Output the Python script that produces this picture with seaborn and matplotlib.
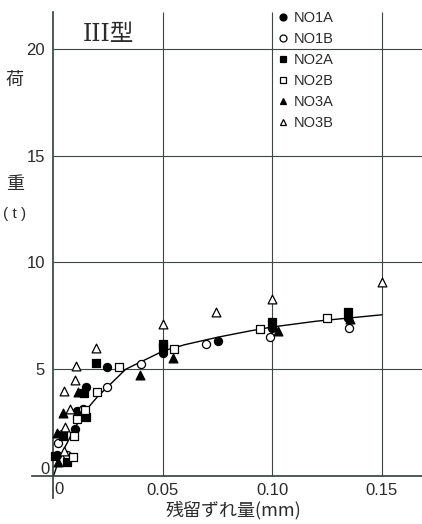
import matplotlib
matplotlib.use("Agg")
import matplotlib.pyplot as plt
import seaborn as sns
import numpy as np

# DATA
no1a_x = [0.0015, 0.0098, 0.0109, 0.0147, 0.0245, 0.0501, 0.0752, 0.0999, 0.1346]
no1a_y = [0.98, 2.20, 3.04, 4.15, 5.12, 5.78, 6.30, 6.92, 7.39]

no1b_x = [0.0022, 0.0060, 0.0040, 0.0135, 0.0246, 0.0400, 0.0696, 0.0989, 0.1350]
no1b_y = [1.55, 0.98, 1.95, 3.15, 4.15, 5.24, 6.19, 6.53, 6.95]

no2a_x = [0.0007, 0.0060, 0.0045, 0.0147, 0.0141, 0.0194, 0.0501, 0.0501, 0.0999, 0.1346]
no2a_y = [0.95, 0.64, 1.87, 2.78, 3.87, 5.28, 6.20, 6.05, 7.23, 7.70]

no2b_x = [0.0090, 0.0095, 0.0106, 0.0144, 0.0197, 0.0300, 0.0552, 0.0943, 0.1250]
no2b_y = [0.90, 1.87, 2.65, 3.09, 3.95, 5.10, 5.97, 6.89, 7.41]

no3a_x = [0.0022, 0.0015, 0.0045, 0.0113, 0.0395, 0.0547, 0.1027, 0.1354]
no3a_y = [0.67, 2.00, 2.95, 3.95, 4.75, 5.53, 6.79, 7.34]

no3b_x = [0.0049, 0.0053, 0.0075, 0.0049, 0.0098, 0.0101, 0.0194, 0.0499, 0.0742, 0.0999, 0.1499]
no3b_y = [1.19, 2.31, 3.12, 3.98, 4.50, 5.15, 5.98, 7.12, 7.70, 8.28, 9.10]

curve_x = [0, 0.002, 0.005, 0.010, 0.015, 0.020, 0.025, 0.033, 0.040, 0.050,
           0.060, 0.075, 0.090, 0.100, 0.120, 0.150]
curve_y = [0, 0.6, 1.3, 2.3, 3.1, 3.7, 4.2, 5.0, 5.35, 5.85,
           6.15, 6.5, 6.8, 6.98, 7.25, 7.55]

x_ticks = [0.05, 0.10, 0.15]
x_ticklabels = ["0.05", "0.10", "0.15"]
y_ticks = [5, 10, 15, 20]
y_ticklabels = ["5", "10", "15", "20"]

series = [
    ("NO1A", no1a_x, no1a_y, "o", True),
    ("NO1B", no1b_x, no1b_y, "o", False),
    ("NO2A", no2a_x, no2a_y, "s", True),
    ("NO2B", no2b_x, no2b_y, "s", False),
    ("NO3A", no3a_x, no3a_y, "^", True),
    ("NO3B", no3b_x, no3b_y, "^", False),
]

sns.set_style("white")
plt.rcParams["font.family"] = ["Liberation Sans", "Noto Sans CJK JP", "DejaVu Sans"]

ink = "#2b2b2b"
grid_c = "#3b4743"

fig = plt.figure(figsize=(4.22, 5.24), dpi=100)
ax = fig.add_axes([32 / 422, 26 / 524, 390 / 422, 486 / 524])
ax.set_xlim(-0.0098, 0.1683)
ax.set_ylim(-1.03, 21.73)

# grid lines (only in the positive quadrant)
ax.vlines(x_ticks, 0, 21.73, color=grid_c, lw=0.8, zorder=1)
ax.hlines(y_ticks, 0, 0.1683, color=grid_c, lw=0.8, zorder=1)

# axes crossing at the origin
for side in ["top", "right"]:
    ax.spines[side].set_visible(False)
ax.spines["left"].set_position(("data", 0))
ax.spines["bottom"].set_position(("data", 0))
for side in ["left", "bottom"]:
    ax.spines[side].set_color("#2d3f3a")
    ax.spines[side].set_linewidth(1.2)

ax.set_xticks(x_ticks)
ax.set_xticklabels(x_ticklabels, fontsize=12, color=ink)
ax.set_yticks(y_ticks)
ax.set_yticklabels(y_ticklabels, fontsize=12, color=ink)
ax.tick_params(axis="x", length=0, pad=5)
ax.tick_params(axis="y", length=5, width=0.8, color=grid_c, direction="out", pad=1)

# fitted curve
sns.lineplot(x=curve_x, y=curve_y, color="black", linewidth=1.0, sort=False,
             estimator=None, ax=ax, zorder=2)

# measured points
handles = []
for name, xs, ys, m, filled in series:
    fc = "black" if filled else "white"
    sz = 34 if m != "^" else 40
    sns.scatterplot(x=xs, y=ys, marker=m, s=sz, facecolor=fc, edgecolor="black",
                    linewidth=0.9, ax=ax, zorder=3)
    h, = ax.plot([], [], linestyle="none", marker=m, markersize=5,
                 markerfacecolor=fc, markeredgecolor="black", markeredgewidth=0.9)
    handles.append((h, name))

ax.legend([h for h, _ in handles], [n for _, n in handles],
          loc="upper left", bbox_to_anchor=(277 / 422, 1 - 11 / 524),
          bbox_transform=fig.transFigure, frameon=False, fontsize=10.5,
          handlelength=0.8, handletextpad=0.35, labelspacing=0.48,
          borderpad=0, borderaxespad=0, labelcolor=ink)

# zero labels
fig.text(45 / 422, 1 - 470 / 524, "0", fontsize=12, color=ink, ha="center", va="center")
fig.text(59 / 422, 1 - 489 / 524, "0", fontsize=12, color=ink, ha="center", va="center")

# titles and axis labels
fig.text(108 / 422, 1 - 35 / 524, "III型", fontsize=17, color=ink, ha="center",
         va="center", family=["DejaVu Serif", "Noto Sans CJK JP"])
fig.text(15 / 422, 1 - 80 / 524, "荷", fontsize=13, color=ink, ha="center",
         va="center", family=["Noto Sans CJK JP"])
fig.text(15 / 422, 1 - 184 / 524, "重", fontsize=13, color=ink, ha="center",
         va="center", family=["Noto Sans CJK JP"])
fig.text(15 / 422, 1 - 214 / 524, "( t )", fontsize=11, color=ink, ha="center",
         va="center", family=["Liberation Sans"])
fig.text(233 / 422, 1 - 510 / 524, "残留ずれ量(mm)", fontsize=13, color=ink,
         ha="center", va="center", family=["Noto Sans CJK JP"])

fig.savefig("out.png", dpi=100, facecolor="white")
